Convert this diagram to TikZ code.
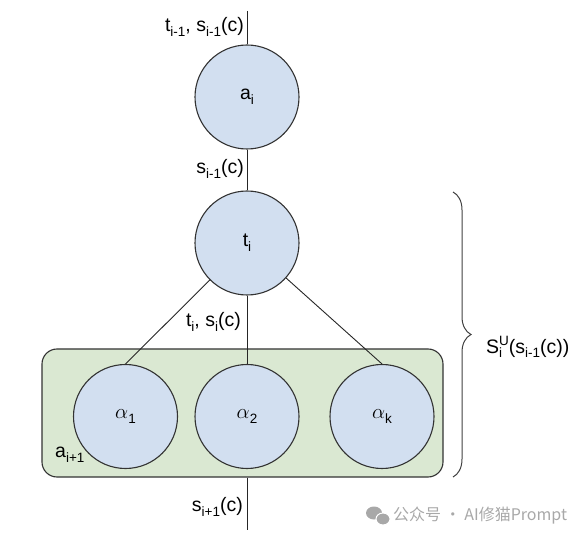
\documentclass[tikz,border=0pt]{standalone}
\usepackage{fontspec}
\setmainfont{Liberation Sans}
\newfontfamily\cjk{Noto Sans CJK SC}
\usetikzlibrary{decorations.pathreplacing}
\definecolor{circfill}{HTML}{D2DFF0}
\definecolor{boxfill}{HTML}{DAE8D2}
\definecolor{edge}{HTML}{333333}
\definecolor{wm}{HTML}{A8A8A8}
\newcommand{\sbx}[1]{\raisebox{-0.45ex}{\fontsize{13.5}{14}\selectfont #1}}
\newcommand{\spx}[1]{\raisebox{0.75ex}{\fontsize{13.5}{14}\selectfont #1}}
\begin{document}
\begin{tikzpicture}[x=1pt,y=-1pt,
  circ/.style={circle,draw=edge,line width=1.1pt,fill=circfill,minimum size=104pt,inner sep=0pt,font=\fontsize{19.5}{22}\selectfont},
  conn/.style={draw=black!85,line width=0.9pt},
  lbl/.style={font=\fontsize{19.5}{22}\selectfont,inner sep=1pt}]
\useasboundingbox (0,0) rectangle (587,540);
% green box
\node[draw=edge,line width=1.1pt,fill=boxfill,rounded corners=15pt,minimum width=401pt,minimum height=128pt,inner sep=0pt] (box) at (242.5,413) {};
% circles
\node[circ] (ai) at (247,97) {a\sbx{i}};
\node[circ] (ti) at (247,243) {t\sbx{i}};
\node[circ] (al1) at (125.5,416.5) {$\alpha$\sbx{1}};
\node[circ] (al2) at (247,416.5) {$\alpha$\sbx{2}};
\node[circ] (alk) at (382,416.5) {$\alpha$\sbx{k}};
% free ends
\coordinate (top) at (247,11);
\coordinate (bot) at (247,530);
% connectors
\draw[conn] (top) -- (ai);
\draw[conn] (ai) -- (ti);
\draw[conn] (ti) -- (al1.north);
\draw[conn] (ti) -- (al2.north);
\draw[conn] (ti) -- (alk.north);
\draw[conn] (bot |- box.south) -- (bot);
% labels
\node[lbl,anchor=east] (l1) at (245,27) {t\sbx{i-1}, s\sbx{i-1}(c)};
\node[lbl,anchor=east] (l2) at (245,169) {s\sbx{i-1}(c)};
\node[lbl,anchor=east] (l3) at (242,322) {t\sbx{i}, s\sbx{i}(c)};
\node[lbl,anchor=west] (l4) at (54,455) {a\sbx{i+1}};
\node[lbl,anchor=east] (l5) at (244,507) {s\sbx{i+1}(c)};
% brace
\coordinate (bt) at (453,192);
\coordinate (bb) at (453,477);
\draw[line width=1pt,draw=black!75,decorate,decoration={brace,amplitude=18pt,aspect=0.5}] (bt) -- (bb);
\node[lbl,anchor=west] (l6) at (485,347) {S\rlap{\sbx{i}}\spx{U}(s\sbx{i-1}(c))};
% watermark
\fill[wm] (374,513) ellipse (8pt and 6.5pt);
\fill[wm,draw=white,line width=1pt] (383,519) ellipse (7pt and 6pt);
\node[anchor=west,text=wm,font=\cjk\fontsize{16}{18}\selectfont,inner sep=0pt] (wmt) at (393,516) {公众号 · AI修猫Prompt};
\end{tikzpicture}
\end{document}
